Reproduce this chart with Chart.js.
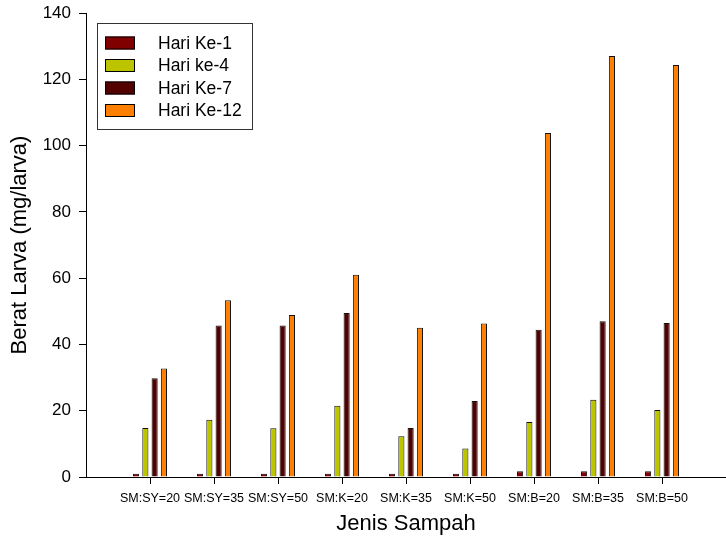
<!DOCTYPE html>
<html>
<head>
<meta charset="utf-8">
<script src="https://cdn.jsdelivr.net/npm/chart.js@4"></script>
<style>
  body { margin: 0; background: #fff; }
  #wrap { width: 726px; height: 541px; }
</style>
</head>
<body>
<div id="wrap"><canvas id="larvaChart"></canvas></div>
<script>
const categories = ["SM:SY=20", "SM:SY=35", "SM:SY=50", "SM:K=20", "SM:K=35", "SM:K=50", "SM:B=20", "SM:B=35", "SM:B=50"];
const hariKe1 = [1, 1, 1, 1, 1, 1, 1.7, 1.7, 1.7];
const hariKe4 = [14.8, 17.3, 14.7, 21.5, 12.3, 8.6, 16.6, 23.3, 20.2];
const hariKe7 = [29.8, 45.7, 45.7, 49.5, 14.8, 22.9, 44.4, 47, 46.5];
const hariKe12 = [32.7, 53.3, 48.9, 61, 45, 46.3, 103.8, 127, 124.3];
const yTicks = [0, 20, 40, 60, 80, 100, 120, 140];

const FONT = "'Liberation Sans', Arial, sans-serif";

function toPoints(values) {
  return values.map((v, i) => ({ x: i, y: v }));
}

// legend drawn as a boxed block in the top-left of the plot
const boxLegend = {
  id: "boxLegend",
  afterDraw(chart) {
    const ctx = chart.ctx;
    const x = 97, y = 23, w = 155, h = 106;
    ctx.save();
    ctx.fillStyle = "#fff";
    ctx.fillRect(x, y, w, h);
    ctx.strokeStyle = "#333";
    ctx.lineWidth = 1;
    ctx.strokeRect(x + 0.5, y + 0.5, w, h);
    ctx.font = "17.5px " + FONT;
    ctx.textBaseline = "middle";
    chart.data.datasets.forEach((ds, i) => {
      const rowY = 43 + i * 22.5;
      ctx.fillStyle = ds.backgroundColor;
      ctx.fillRect(105, rowY - 6.5, 30, 13);
      ctx.strokeStyle = "#000";
      ctx.strokeRect(105.5, rowY - 6, 29, 12);
      ctx.fillStyle = "#000";
      ctx.fillText(ds.label, 158, rowY + 1);
    });
    ctx.restore();
  }
};

function makeDataset(label, values, color) {
  return {
    label: label,
    data: toPoints(values),
    backgroundColor: color,
    borderColor: "#111",
    borderWidth: 1,
    categoryPercentage: 0.58,
    barPercentage: 0.66
  };
}

new Chart(document.getElementById("larvaChart"), {
  type: "bar",
  data: {
    datasets: [
      makeDataset("Hari Ke-1", hariKe1, "#800000"),
      makeDataset("Hari ke-4", hariKe4, "#bcc400"),
      makeDataset("Hari Ke-7", hariKe7, "#520000"),
      makeDataset("Hari Ke-12", hariKe12, "#ff8000")
    ]
  },
  options: {
    responsive: true,
    maintainAspectRatio: false,
    animation: false,
    layout: { padding: { top: 13, right: 0, bottom: 0, left: 0 } },
    plugins: {
      legend: { display: false },
      tooltip: { enabled: false }
    },
    scales: {
      x: {
        type: "linear",
        min: -1,
        max: 9,
        offset: false,
        afterBuildTicks: (scale) => {
          scale.ticks = categories.map((c, i) => ({ value: i }));
        },
        afterFit: (scale) => { scale.height = 64; },
        grid: {
          drawOnChartArea: false,
          drawTicks: true,
          tickLength: 7,
          color: "#000",
          offset: false
        },
        border: { color: "#000", width: 1 },
        ticks: {
          color: "#000",
          font: { family: FONT, size: 12.5 },
          padding: 7,
          maxRotation: 0,
          autoSkip: false,
          callback: (value) => categories[value]
        },
        title: {
          display: true,
          text: "Jenis Sampah",
          color: "#000",
          font: { family: FONT, size: 22 },
          padding: { top: 13 }
        }
      },
      y: {
        min: 0,
        max: 140,
        afterBuildTicks: (scale) => {
          scale.ticks = yTicks.map(v => ({ value: v }));
        },
        afterFit: (scale) => {
          scale.width = 86;
          scale.paddingTop = 0;
        },
        grid: {
          drawOnChartArea: false,
          drawTicks: true,
          tickLength: 7,
          color: "#000"
        },
        border: { color: "#000", width: 1 },
        ticks: {
          color: "#000",
          font: { family: FONT, size: 17 },
          padding: 8
        },
        title: {
          display: true,
          text: "Berat Larva (mg/larva)",
          color: "#000",
          font: { family: FONT, size: 22 },
          padding: { top: 7, bottom: 0 }
        }
      }
    }
  },
  plugins: [boxLegend]
});
</script>
</body>
</html>
